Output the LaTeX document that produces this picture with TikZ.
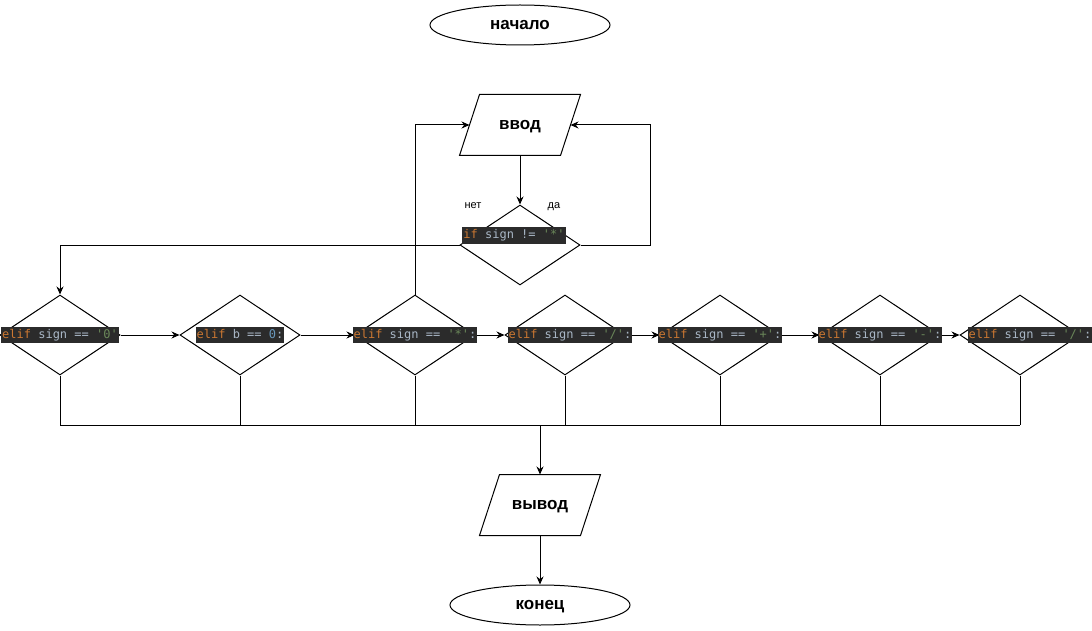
\documentclass[tikz,border=0pt]{standalone}
\usepackage{fontspec}
\setsansfont{Liberation Sans}
\setmonofont{DejaVu Sans Mono}
\usepackage{xcolor}
\usepackage{tikz}
\usetikzlibrary{shapes,arrows.meta,positioning,calc}

\definecolor{codebg}{HTML}{2B2B2B}
\definecolor{codekw}{HTML}{CC7832}
\definecolor{codeid}{HTML}{A9B7C6}
\definecolor{codestr}{HTML}{6A8759}
\definecolor{codenum}{HTML}{6897BB}
\newcommand{\ckw}[1]{\textcolor{codekw}{#1}}
\newcommand{\cstr}[1]{\textcolor{codestr}{#1}}
\newcommand{\cnum}[1]{\textcolor{codenum}{#1}}

\tikzset{
    term/.style={draw, ellipse, minimum width=180pt, minimum height=40pt, inner sep=0pt,
        font=\sffamily\bfseries\fontsize{17}{20}\selectfont, text height=9pt, text depth=0pt},
    io/.style={minimum width=100pt, minimum height=60pt, inner sep=0pt,
        font=\sffamily\bfseries\fontsize{17}{20}\selectfont, text height=9pt, text depth=0pt},
    cond/.style={draw, diamond, minimum width=120pt, minimum height=80pt, inner sep=0pt},
    code/.style={fill=codebg, text=codeid, font=\ttfamily\fontsize{12}{14}\selectfont,
        inner xsep=1pt, inner ysep=2pt, text height=9pt, text depth=3pt},
    note/.style={font=\sffamily\fontsize{11}{13}\selectfont, text height=6pt, text depth=0pt},
    arr/.style={-{Stealth[length=8pt,width=7pt]}}
}

\begin{document}
\begin{tikzpicture}[x=1pt, y=-1pt, line width=1pt]
    \useasboundingbox (0,0) rectangle (1092,631);

    % Start and input
    \node[term] (start) at (520,25) {начало};
    \node[io] (inp) at (520,125) {ввод};
    \draw ([xshift=10pt]inp.north west) -- ([xshift=10pt]inp.north east)
        -- ([xshift=-10pt]inp.south east) -- ([xshift=-10pt]inp.south west) -- cycle;

    % Check for the stop sign
    \node[cond] (chk) at (520,245) {};
    \node[code] (chktxt) at (514,235.5) {\ckw{if} sign != \cstr{'*'}};
    \node[note] (no) at (473,205) {нет};
    \node[note] (yes) at (554,205) {да};
    \coordinate (back) at (650,245);

    \draw[arr] (inp) -- (chk);
    \draw[arr] (chk.east) -- (back) |- (inp.east);

    % Branches
    \foreach \n/\x in {1/60, 2/240, 3/415, 4/565, 5/720, 6/880, 7/1020}
        \node[cond] (b\n) at (\x,335) {};

    \draw[arr] (chk.west) -| (b1.north);
    \draw[arr] (b3.north) |- (inp.west);
    \foreach \a/\b in {1/2, 2/3, 3/4, 4/5, 5/6, 6/7}
        \draw[arr] (b\a.east) -- (b\b.west);

    \node[code] (t1) at (b1) {\ckw{elif} sign == \cstr{'0'}};
    \node[code] (t2) at (b2) {\ckw{elif} b == \cnum{0}:};
    \node[code] (t3) at (b3) {\ckw{elif} sign == \cstr{'*'}:};
    \node[code, xshift=5pt] (t4) at (b4) {\ckw{elif} sign == \cstr{'/'}:};
    \node[code] (t5) at (b5) {\ckw{elif} sign == \cstr{'+'}:};
    \node[code] (t6) at (b6) {\ckw{elif} sign == \cstr{'-'}:};
    \node[code, xshift=10pt] (t7) at (b7) {\ckw{elif} sign == \cstr{'/'}:};

    % Output and end
    \node[io] (outp) at (540,505) {вывод};
    \draw ([xshift=10pt]outp.north west) -- ([xshift=10pt]outp.north east)
        -- ([xshift=-10pt]outp.south east) -- ([xshift=-10pt]outp.south west) -- cycle;
    \node[term] (stop) at (540,605) {конец};
    \coordinate (join) at (540,425);

    \foreach \n in {1,...,7}
        \draw (b\n.south) -- (b\n.south |- join);
    \draw (b1.south |- join) -- (b7.south |- join);
    \draw[arr] (join) -- (outp);
    \draw[arr] (outp) -- (stop);
\end{tikzpicture}
\end{document}
